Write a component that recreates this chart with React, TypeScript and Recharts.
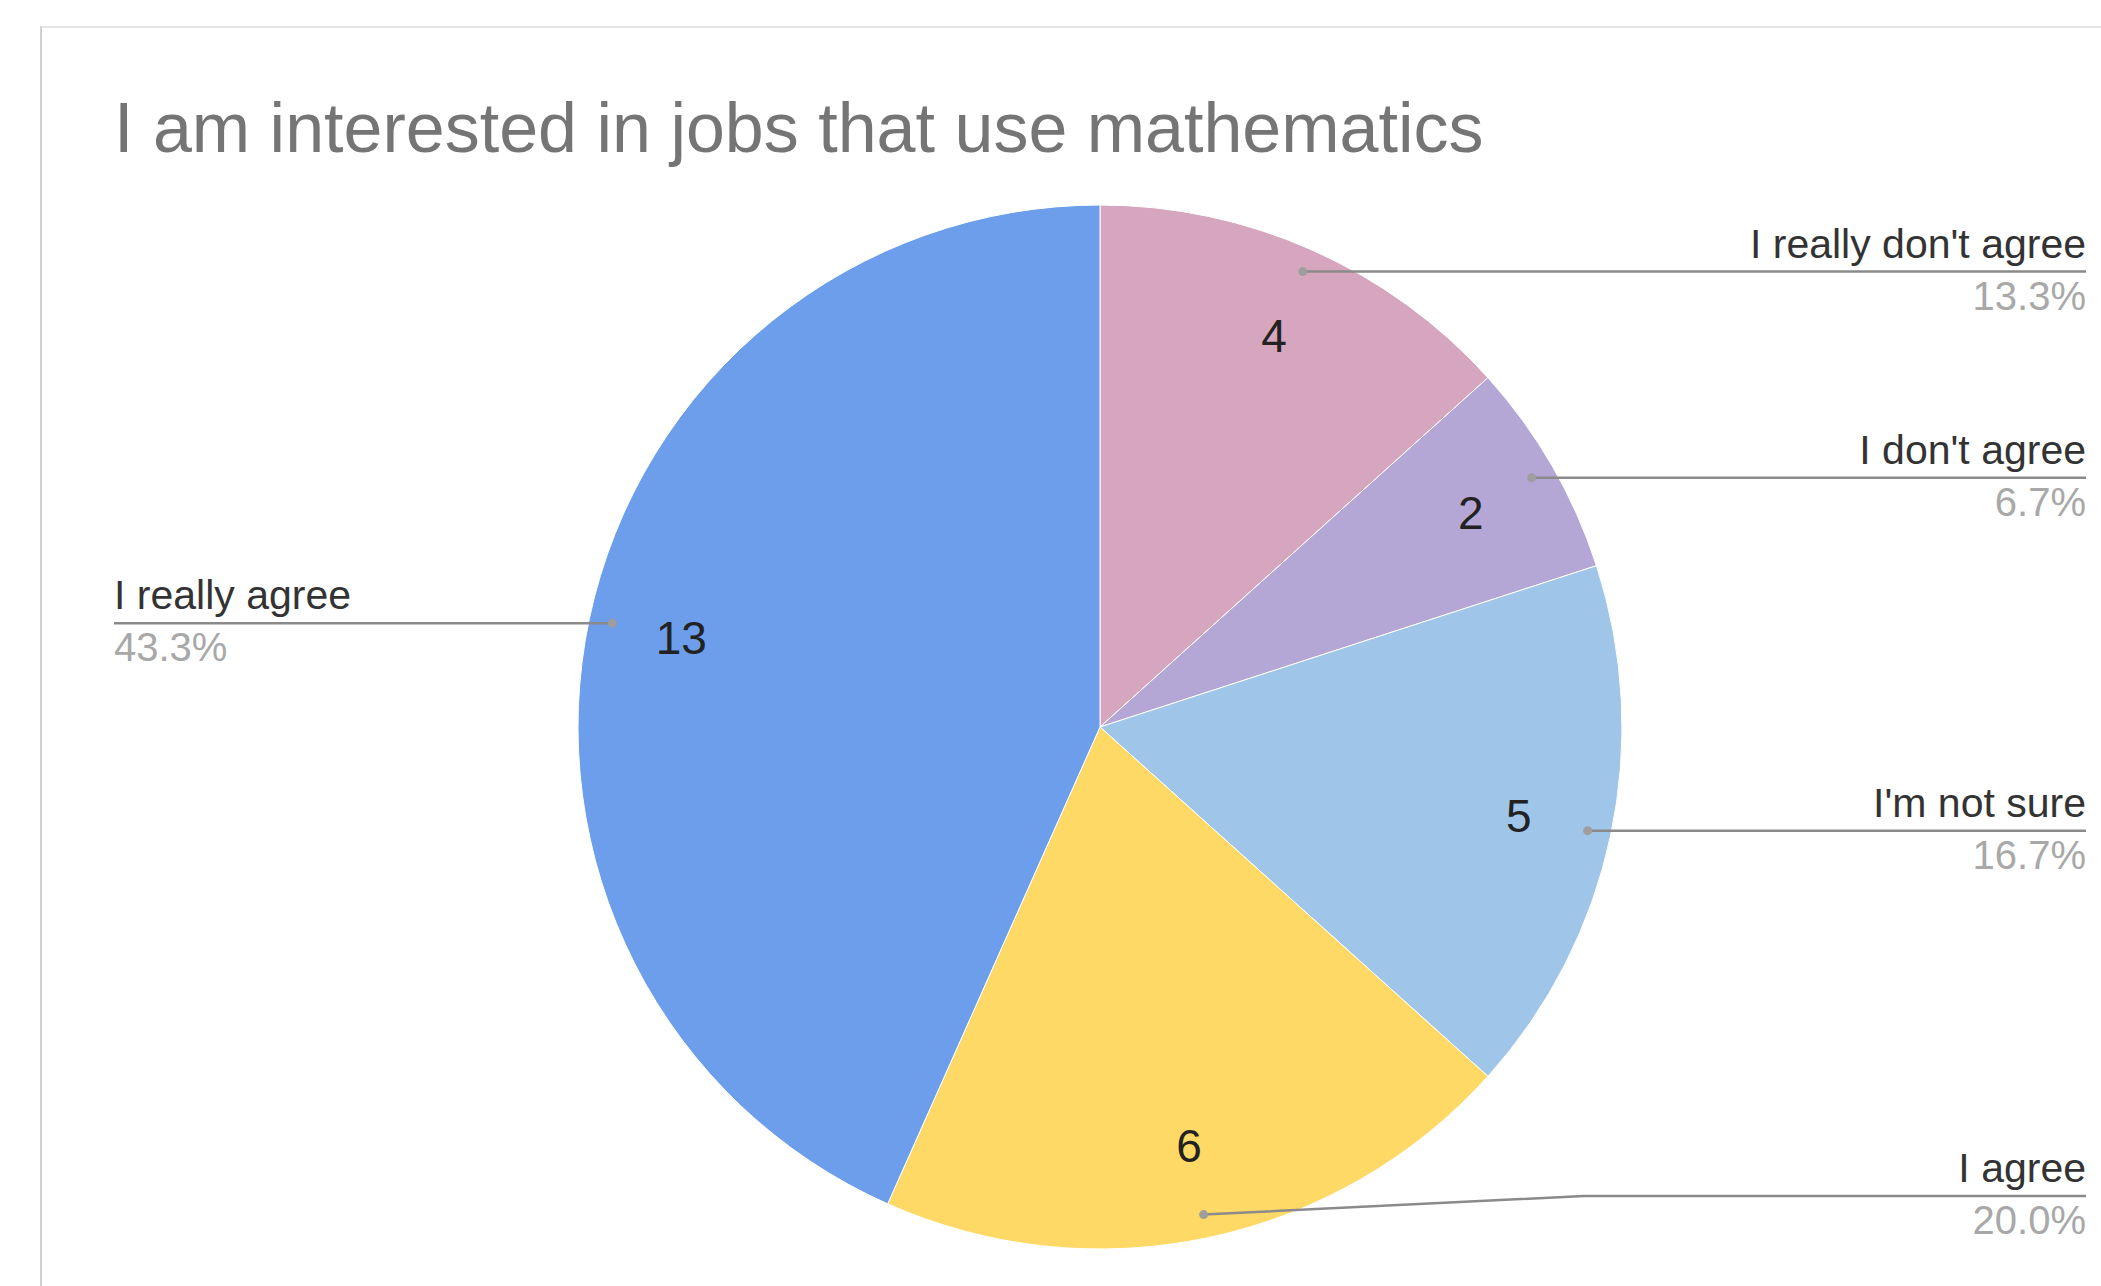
import React from 'react';
import {Cell, Pie, PieChart} from 'recharts';

// survey answers, clockwise from 12 o'clock
const LABELS = ["I really don't agree", "I don't agree", "I'm not sure", 'I agree', 'I really agree'];
const COUNTS = [4, 2, 5, 6, 13];
const COLORS = ['#d5a6bd', '#b4a7d6', '#9fc5e8', '#ffd966', '#6d9eeb'];

const TITLE = 'I am interested in jobs that use mathematics';

const data = LABELS.map((name, i) => ({name, value: COUNTS[i]}));

const W = 2101;
const H = 1286;
const FONT = '"Liberation Sans", Arial, sans-serif';
const RADIAN = Math.PI / 180;
const RIGHT_X = 2086;
const LEFT_X = 114;
const MAX_LINE_Y = 1196;

const renderLabel = (props: any) => {
  const {cx, cy, midAngle, outerRadius, percent, name, value} = props;
  const cos = Math.cos(-midAngle * RADIAN);
  const sin = Math.sin(-midAngle * RADIAN);
  const vx = cx + outerRadius * 0.82 * cos;
  const vy = cy + outerRadius * 0.82 * sin;
  const dx = cx + outerRadius * 0.955 * cos;
  const dy = cy + outerRadius * 0.955 * sin;
  const right = cos >= 0;
  const endX = right ? RIGHT_X : LEFT_X;
  const lineY = Math.min(dy, MAX_LINE_Y);
  const bendX = dx + (right ? 1 : -1) * Math.min(380, Math.abs(endX - dx));
  const anchor = right ? 'end' : 'start';

  return (
    <g>
      <text
        x={vx}
        y={vy}
        textAnchor="middle"
        dominantBaseline="central"
        fill="#222"
        fontSize={46}
        fontFamily={FONT}
      >
        {value}
      </text>
      <polyline
        points={`${dx},${dy} ${bendX},${lineY} ${endX},${lineY}`}
        fill="none"
        stroke="#8a8a8a"
        strokeWidth={2.5}
      />
      <circle cx={dx} cy={dy} r={4.5} fill="#9e9e9e" />
      <text x={endX} y={lineY - 14} textAnchor={anchor} fill="#333" fontSize={41} fontFamily={FONT}>
        {name}
      </text>
      <text x={endX} y={lineY + 38} textAnchor={anchor} fill="#a8a8a8" fontSize={40} fontFamily={FONT}>
        {(percent * 100).toFixed(1)}%
      </text>
    </g>
  );
};

export default function App() {
  return (
    <div style={{position: 'absolute', left: 0, top: 0, width: W, height: H, background: '#fff', overflow: 'hidden'}}>
      <div
        style={{
          position: 'absolute',
          left: 40,
          top: 26,
          width: W,
          height: H,
          borderLeft: '2px solid #d0d0d0',
          borderTop: '2px solid #e4e4e4',
        }}
      />
      <div
        style={{
          position: 'absolute',
          left: 114,
          top: 93,
          fontFamily: FONT,
          fontSize: 70,
          lineHeight: '70px',
          color: '#757575',
          whiteSpace: 'nowrap',
        }}
      >
        {TITLE}
      </div>
      <div style={{position: 'absolute', left: 0, top: 0}}>
        <PieChart width={W} height={H} margin={{top: 0, right: 0, bottom: 0, left: 0}}>
          <Pie
            data={data}
            dataKey="value"
            nameKey="name"
            cx={1100}
            cy={727}
            outerRadius={522}
            startAngle={90}
            endAngle={-270}
            stroke="#fff"
            strokeWidth={1}
            label={renderLabel}
            labelLine={false}
            isAnimationActive={false}
          >
            {data.map((d, i) => (
              <Cell key={d.name} fill={COLORS[i]} />
            ))}
          </Pie>
        </PieChart>
      </div>
    </div>
  );
}
